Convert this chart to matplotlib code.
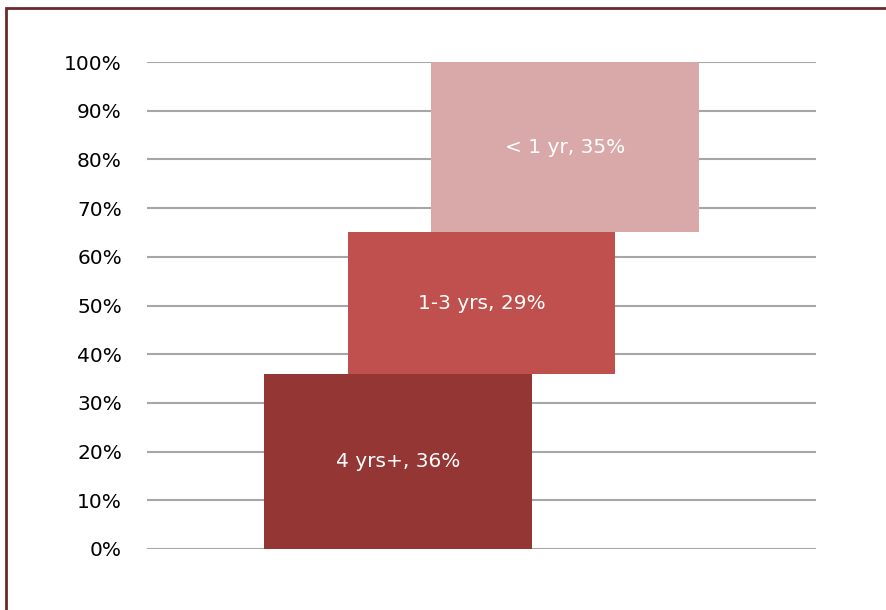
import matplotlib.pyplot as plt
from matplotlib.patches import Rectangle

labels = ['4 yrs+, 36%', '1-3 yrs, 29%', '< 1 yr, 35%']
shares = [36, 29, 35]
starts = [0, 36, 65]
colors = ['#943634', '#C0504D', '#D9A9A9']
yticks = [0, 10, 20, 30, 40, 50, 60, 70, 80, 90, 100]

plt.rcParams['font.family'] = ['DejaVu Sans']

fig = plt.figure(figsize=(8.86, 6.10), dpi=100)
ax = fig.add_axes([147/886, 1-549/610, (816-147)/886, (549-62)/610])

pos = [0, 1, 2]
bars = ax.bar(pos, shares, bottom=starts, width=3.2, color=colors, zorder=2)
for b, lab in zip(bars, labels):
    ax.text(b.get_x() + b.get_width()/2, b.get_y() + b.get_height()/2, lab,
            ha='center', va='center', color='white', fontsize=14.5, zorder=3)

ax.set_xlim(-3, 5)
ax.set_ylim(0, 100)
ax.set_yticks(yticks)
ax.set_yticklabels([f'{t}%' for t in yticks], fontsize=14.5)
ax.set_xticks([])
ax.tick_params(axis='y', length=0, pad=18)
ax.grid(axis='y', color='#A6A6A6', linewidth=1.5, zorder=0)
for s in ax.spines.values():
    s.set_visible(False)

fig.patches.append(Rectangle((6/886, -0.1), 1.2, 1.1 - 8/610,
                             transform=fig.transFigure, fill=False,
                             edgecolor='#6B2A2A', linewidth=2))

fig.savefig('out.png', dpi=100)
